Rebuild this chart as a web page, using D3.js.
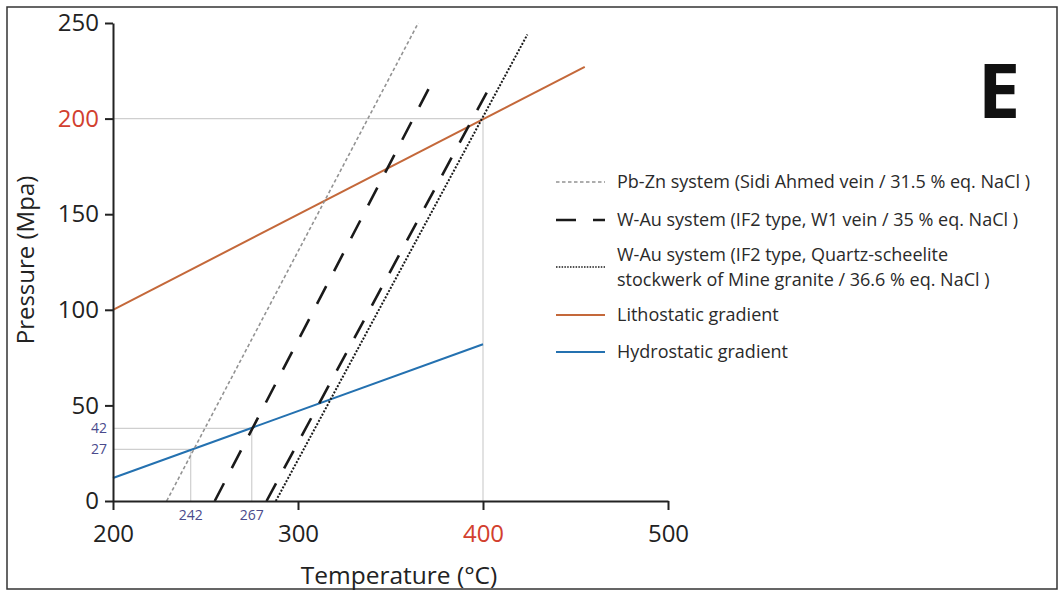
<!DOCTYPE html>
<html>
<head>
<meta charset="utf-8">
<script src="https://cdn.jsdelivr.net/npm/d3@7"></script>
<style>
  body { margin: 0; background: #fff; }
  text { font-family: "Open Sans", "Noto Sans", sans-serif; }
</style>
</head>
<body>
<div id="chart"></div>
<script>
// axis ticks
var xTicks = [200, 300, 400, 500]
var yTicks = [0, 50, 100, 150, 200, 250]

// isochores, [T, P] end points
var pbZnLine = [[229, 0], [365, 250]]
var w1LineA = [[255, 0], [373, 220]]
var w1LineB = [[283, 0], [405, 219]]
var stockwerkLine = [[288, 0], [424, 244]]

// gradients
var lithostatic = [[200, 100], [455, 227]]
var hydrostatic = [[200, 12], [400, 82]]

// guide lines at the hydrostatic crossings
var guideT = [242, 275]
var guideP = [27, 38]
var guideTLabels = ["242", "267"]
var guidePLabels = ["27", "42"]
var markT = 400
var markP = 200

var legendNames = [
  ["Pb-Zn system (Sidi Ahmed vein / 31.5 % eq. NaCl )"],
  ["W-Au system (IF2 type, W1 vein / 35 % eq. NaCl )"],
  ["W-Au system (IF2 type, Quartz-scheelite", "stockwerk of Mine granite / 36.6 % eq. NaCl )"],
  ["Lithostatic gradient"],
  ["Hydrostatic gradient"]
]

var width = 1061
var height = 591

var svg = d3.select("#chart").append("svg")
  .attr("width", width)
  .attr("height", height)

// frame
svg.append("rect")
  .attr("x", 7).attr("y", 7)
  .attr("width", 1050).attr("height", 582)
  .attr("fill", "none")
  .attr("stroke", "#333")
  .attr("stroke-width", 1.5)

var x = d3.scaleLinear().domain([200, 500]).range([113, 668])
var y = d3.scaleLinear().domain([0, 250]).range([501, 23])

var line = d3.line()
  .x(function (d) { return x(d[0]) })
  .y(function (d) { return y(d[1]) })

// light guide lines
var guides = svg.append("g")
  .attr("stroke", "#cfcfcf")
  .attr("stroke-width", 1.2)
  .attr("fill", "none")

guides.append("path").attr("d", line([[200, markP], [markT, markP]]))
guides.append("path").attr("d", line([[markT, markP], [markT, 0]]))
for (var i = 0; i < guideT.length; i++) {
  guides.append("path").attr("d", line([[200, guideP[i]], [guideT[i], guideP[i]]]))
  guides.append("path").attr("d", line([[guideT[i], guideP[i]], [guideT[i], 0]]))
}

// gradients
svg.append("path")
  .attr("d", line(lithostatic))
  .attr("fill", "none")
  .attr("stroke", "#c4683a")
  .attr("stroke-width", 2)

svg.append("path")
  .attr("d", line(hydrostatic))
  .attr("fill", "none")
  .attr("stroke", "#2471b0")
  .attr("stroke-width", 2)

// isochores
svg.append("path")
  .attr("d", line(pbZnLine))
  .attr("fill", "none")
  .attr("stroke", "#939393")
  .attr("stroke-width", 1.6)
  .attr("stroke-dasharray", "3.5,2.5")

svg.selectAll(".w1")
  .data([w1LineA, w1LineB])
  .enter()
  .append("path")
  .attr("class", "w1")
  .attr("d", line)
  .attr("fill", "none")
  .attr("stroke", "#1a1a1a")
  .attr("stroke-width", 2.6)
  .attr("stroke-dasharray", "20,17")

svg.append("path")
  .attr("d", line(stockwerkLine))
  .attr("fill", "none")
  .attr("stroke", "#1a1a1a")
  .attr("stroke-width", 2)
  .attr("stroke-dasharray", "2,1.6")

// axes
var xAxis = svg.append("g")
  .attr("transform", "translate(0," + y(0) + ")")
  .call(d3.axisBottom(x).tickValues(xTicks).tickSize(9).tickSizeOuter(0).tickFormat(d3.format("d")))
var yAxis = svg.append("g")
  .attr("transform", "translate(" + x(200) + ",0)")
  .call(d3.axisLeft(y).tickValues(yTicks).tickSize(8).tickSizeOuter(0).tickFormat(d3.format("d")))

svg.selectAll(".domain, .tick line")
  .attr("stroke", "#222")
  .attr("stroke-width", 2)

xAxis.selectAll("text")
  .attr("y", 24)
  .attr("dy", "0.71em")
  .attr("font-size", 24)
  .attr("fill", function (d) { return d == 400 ? "#d2402e" : "#222" })
yAxis.selectAll("text")
  .attr("x", -14)
  .attr("font-size", 24)
  .attr("fill", function (d) { return d == 200 ? "#d2402e" : "#222" })

svg.selectAll(".tick text").attr("font-family", "Open Sans, sans-serif")

// axis titles
svg.append("text")
  .attr("x", 399)
  .attr("y", 584)
  .attr("text-anchor", "middle")
  .attr("font-size", 24.5)
  .attr("fill", "#222")
  .text("Temperature (°C)")

svg.append("text")
  .attr("transform", "translate(34,260) rotate(-90)")
  .attr("text-anchor", "middle")
  .attr("font-size", 24)
  .attr("fill", "#222")
  .text("Pressure (Mpa)")

// guide labels
svg.selectAll(".glT")
  .data(guideT)
  .enter()
  .append("text")
  .attr("class", "glT")
  .attr("x", function (d) { return x(d) })
  .attr("y", 520)
  .attr("text-anchor", "middle")
  .attr("font-size", 14)
  .attr("fill", "#4a4a8c")
  .text(function (d, i) { return guideTLabels[i] })

svg.selectAll(".glP")
  .data(guideP)
  .enter()
  .append("text")
  .attr("class", "glP")
  .attr("x", 107)
  .attr("y", function (d) { return y(d) })
  .attr("dy", "0.35em")
  .attr("text-anchor", "end")
  .attr("font-size", 14)
  .attr("fill", "#4a4a8c")
  .text(function (d, i) { return guidePLabels[i] })

// panel letter
svg.append("text")
  .attr("x", 999)
  .attr("y", 118)
  .attr("text-anchor", "middle")
  .attr("font-size", 76)
  .attr("font-weight", 700)
  .attr("fill", "#111")
  .text("E")

// legend
var legendY = [182, 220, 267, 315, 352]
var legend = svg.append("g")

var samples = [
  { stroke: "#939393", width: 1.6, dash: "3.5,2.5" },
  { stroke: "#1a1a1a", width: 2.6, dash: "20,17" },
  { stroke: "#1a1a1a", width: 1.5, dash: "1.5,1.3" },
  { stroke: "#c4683a", width: 2, dash: null },
  { stroke: "#2471b0", width: 2, dash: null }
]

legend.selectAll("line")
  .data(samples)
  .enter()
  .append("line")
  .attr("x1", 556)
  .attr("x2", 605)
  .attr("y1", function (d, i) { return legendY[i] })
  .attr("y2", function (d, i) { return legendY[i] })
  .attr("stroke", function (d) { return d.stroke })
  .attr("stroke-width", function (d) { return d.width })
  .attr("stroke-dasharray", function (d) { return d.dash })

legend.selectAll("text")
  .data(legendNames)
  .enter()
  .append("text")
  .attr("y", function (d, i) { return legendY[i] - (d.length - 1) * 12.5 })
  .attr("font-size", 18)
  .attr("fill", "#2a2a2a")
  .each(function (d) {
    var t = d3.select(this)
    for (var k = 0; k < d.length; k++) {
      t.append("tspan")
        .attr("x", 617)
        .attr("dy", k == 0 ? "0.35em" : "25")
        .text(d[k])
    }
  })
</script>
</body>
</html>
